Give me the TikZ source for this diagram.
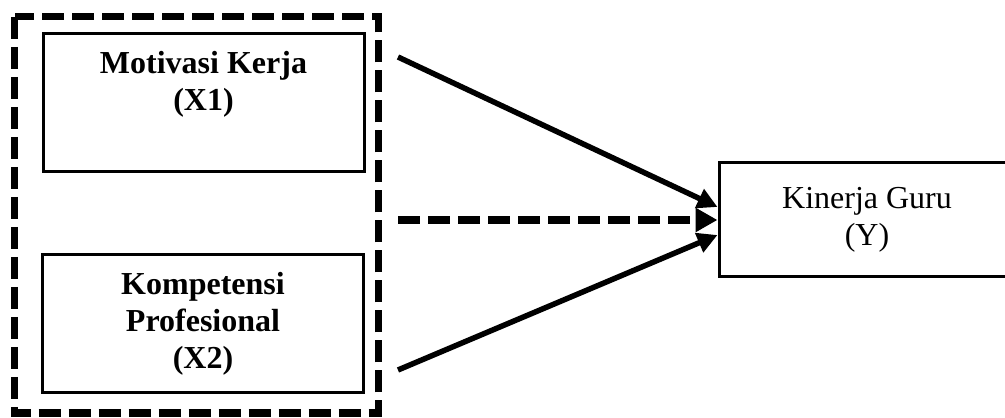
\documentclass[tikz,border=0pt]{standalone}
\usepackage{fontspec}
\setmainfont{Liberation Serif}
\usetikzlibrary{positioning,arrows.meta}

\tikzset{
  varbox/.style={draw, line width=1.5pt, minimum width=160.5pt, minimum height=69pt,
    align=center, inner sep=0pt},
  varlbl/.style={align=center, inner sep=0pt, font=\bfseries},
  bigdash/.style={line width=3.5pt, dash pattern=on 11pt off 4pt},
  link/.style={line width=2.75pt, -{Triangle[length=10pt,width=10pt]}}
}

\begin{document}
\begin{tikzpicture}[x=0.5pt, y=0.5pt]
  \fontsize{16pt}{18.5pt}\selectfont
  \path[use as bounding box, clip] (0,0) rectangle (1005,417);

  % group of independent variables
  \draw[bigdash] (14.5,400) rectangle (378,4);

  \node[varbox] (mot) at (203.5,314) {};
  \node[varlbl, below=9pt of mot.north] (motlbl) {Motivasi Kerja\\(X1)};

  \node[varbox, font=\bfseries] (komp) at (203,93) {Kompetensi\\Profesional\\(X2)};

  \node[varbox, minimum width=148pt, minimum height=57pt] (kin) at (867,197)
    {Kinerja Guru\\(Y)};

  % tails of the arrows
  \coordinate (s1) at (398,360);
  \coordinate (s2) at (398,197);
  \coordinate (s3) at (398,47);

  \draw[link] (s1) -- ([yshift=6.5pt]kin.west);
  \draw[link, line width=4pt, dash pattern=on 11pt off 4pt,
    -{Triangle[length=11pt,width=11.5pt]}] (s2) -- (kin.west);
  \draw[link] (s3) -- ([yshift=-7.5pt]kin.west);
\end{tikzpicture}
\end{document}
